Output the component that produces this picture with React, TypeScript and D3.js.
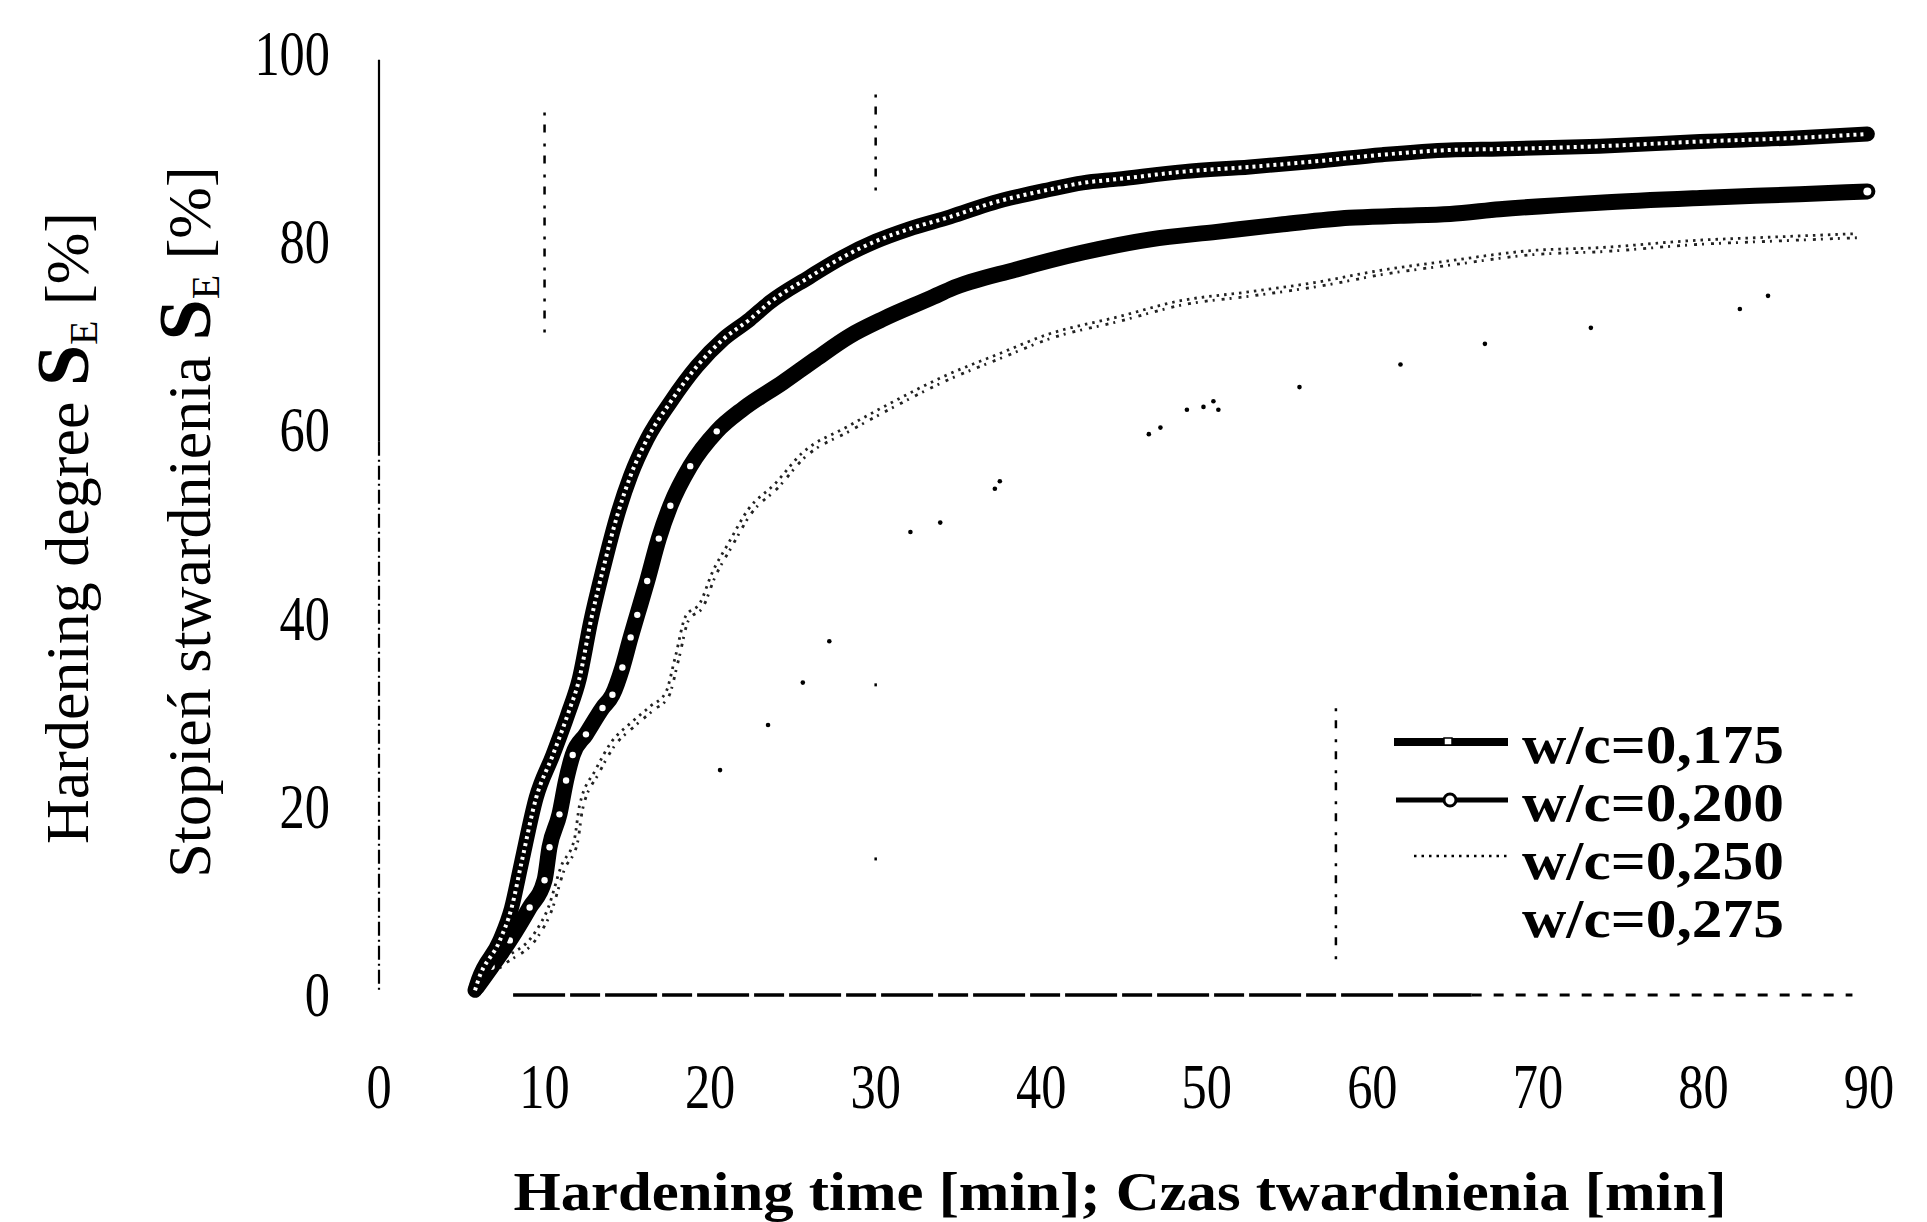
import React from 'react';
import * as d3 from 'd3';

const W = 1927;
const H = 1222;

const xTicks = [0, 10, 20, 30, 40, 50, 60, 70, 80, 90];
const yTicks = [0, 20, 40, 60, 80, 100];

const seriesLabels = ['w/c=0,175', 'w/c=0,200', 'w/c=0,250', 'w/c=0,275'];

// [time min, hardening degree %]
const s175: [number, number][] = [
  [5.8, 0.5], [6.0, 1.6], [7.3, 5.8], [8.0, 9.2], [8.6, 14.0], [9.5, 21.0], [10.5, 25.5],
  [11.4, 29.8], [12.1, 33.6], [12.8, 39.8], [13.5, 45.0], [14.4, 51.0], [15.2, 55.2],
  [16.2, 59.1], [17.6, 63.0], [19.2, 66.8], [20.8, 69.7], [22.4, 71.8], [23.6, 73.6],
  [26.0, 76.3], [28.0, 78.4], [30.0, 80.1], [32.0, 81.4], [34.5, 82.7], [37.1, 84.2],
  [40.5, 85.6], [42.5, 86.3], [44.6, 86.7], [48.6, 87.5], [52.6, 88.0], [56.6, 88.6],
  [60.6, 89.3], [64.7, 89.8], [67.7, 89.9], [73.7, 90.2], [79.8, 90.7], [85.8, 91.1], [89.9, 91.5],
];

const s200: [number, number][] = [
  [5.9, 0.8], [6.8, 3.0], [7.9, 5.8], [9.1, 9.3], [10.0, 12.2], [10.3, 15.7], [10.9, 19.2],
  [11.3, 22.8], [11.7, 25.5], [12.5, 27.7], [13.5, 30.5], [14.1, 31.9], [14.7, 34.8],
  [15.2, 38.0], [15.6, 40.4], [16.2, 44.0], [16.9, 48.5], [17.6, 52.0], [18.8, 56.2],
  [20.4, 59.9], [22.0, 62.3], [24.4, 65.1], [26.4, 67.6], [28.4, 70.0], [30.4, 71.8],
  [33.5, 74.2], [34.5, 75.0], [38.5, 77.1], [42.5, 78.9], [46.6, 80.3], [50.6, 81.1],
  [54.6, 81.9], [58.6, 82.6], [61.7, 82.8], [64.7, 83.0], [67.7, 83.5], [73.7, 84.2],
  [79.8, 84.7], [85.8, 85.1], [89.9, 85.4],
];

const s250: [number, number][] = [
  [5.6, 0.8], [7.5, 3.5], [9.5, 6.4], [10.3, 9.0], [11.1, 13.5], [11.9, 16.4], [12.2, 19.9],
  [13.2, 23.8], [14.1, 26.6], [15.3, 28.7], [16.5, 30.5], [17.4, 31.9], [18.0, 35.8],
  [18.6, 40.0], [19.5, 41.5], [20.2, 44.6], [21.2, 47.8], [22.4, 51.4], [24.0, 54.1],
  [25.6, 57.3], [28.4, 60.2], [30.9, 62.6], [34.3, 65.6], [37.5, 67.9], [40.5, 70.0],
  [44.6, 71.8], [48.6, 73.6], [52.6, 74.5], [56.6, 75.5], [60.6, 76.8], [64.7, 77.8],
  [69.7, 78.9], [73.7, 79.2], [79.8, 80.0], [83.8, 80.3], [89.4, 80.7],
];

const s275: [number, number][] = [
  [20.6, 23.9], [23.5, 28.7], [25.6, 33.2], [27.2, 37.6], [32.1, 49.2], [33.9, 50.2],
  [37.2, 53.8], [37.5, 54.6], [46.5, 59.6], [47.2, 60.3], [48.8, 62.2], [49.8, 62.5],
  [50.4, 63.1], [50.7, 62.2], [55.6, 64.6], [61.7, 67.0], [66.8, 69.2], [73.2, 70.9],
  [82.2, 72.9], [83.9, 74.3],
];

// faint dotted guide remnants of the scan: [time, from %, to %]
const guides: [number, number, number][] = [
  [10, 70.4, 93.8],
  [30, 85.5, 96.0],
  [30, 80.5, 82.0],
  [30, 32.8, 33.8],
  [30, 14.3, 15.3],
  [57.8, 3.8, 31.6],
];

// baseline (zero line) segments: [from min, to min]
const baseDense: [number, number] = [8.1, 66];
const baseSparse: [number, number] = [66, 89];

const xScale = d3.scaleLinear().domain([0, 90]).range([379, 1869]);
const yScale = d3.scaleLinear().domain([0, 100]).range([995, 54]);

const line = d3
  .line<[number, number]>()
  .x((d) => xScale(d[0]))
  .y((d) => yScale(d[1]))
  .curve(d3.curveMonotoneX);

const FONT = '"Liberation Serif", "Times New Roman", serif';

export default function App() {
  const p175 = line(s175) || '';
  const p200 = line(s200) || '';
  const p250 = line(s250) || '';
  const last200 = s200[s200.length - 1];

  return (
    <svg
      width={W}
      height={H}
      viewBox={`0 0 ${W} ${H}`}
      style={{ position: 'absolute', left: 0, top: 0, background: '#fff' }}
      fontFamily={FONT}
    >
      <rect x={0} y={0} width={W} height={H} fill="#fff" />

      {/* y axis: solid upper part, broken lower part */}
      <line x1={xScale(0)} x2={xScale(0)} y1={yScale(99.4)} y2={yScale(58.8)} stroke="#000" strokeWidth={2.2} />
      <line
        x1={xScale(0)}
        x2={xScale(0)}
        y1={yScale(58.8)}
        y2={yScale(0.2)}
        stroke="#000"
        strokeWidth={2.2}
        strokeDasharray="14 4 2 4"
      />

      {/* guide remnants */}
      {guides.map((g, i) => (
        <line
          key={i}
          x1={xScale(g[0])}
          x2={xScale(g[0])}
          y1={yScale(g[1])}
          y2={yScale(g[2])}
          stroke="#000"
          strokeWidth={2.5}
          strokeDasharray="3 11 8 9"
        />
      ))}

      {/* zero line */}
      <line
        x1={xScale(baseDense[0])}
        x2={xScale(baseDense[1])}
        y1={yScale(0)}
        y2={yScale(0)}
        stroke="#000"
        strokeWidth={3.5}
        strokeDasharray="52 5 30 5"
      />
      <line
        x1={xScale(baseSparse[0])}
        x2={xScale(baseSparse[1])}
        y1={yScale(0)}
        y2={yScale(0)}
        stroke="#000"
        strokeWidth={3}
        strokeDasharray="10 12"
      />

      {/* w/c = 0,275 sparse points */}
      {s275.map((d, i) => (
        <circle key={i} cx={xScale(d[0])} cy={yScale(d[1])} r={2.3} fill="#000" />
      ))}

      {/* w/c = 0,250 dotted (fuzzy band of small markers) */}
      <path d={p250} fill="none" stroke="#222" strokeWidth={2.8} strokeDasharray="2.5 5" transform="translate(-1.5,-2)" />
      <path d={p250} fill="none" stroke="#222" strokeWidth={2.8} strokeDasharray="2 7 3 5" transform="translate(1.5,2)" />

      {/* w/c = 0,200 */}
      <path d={p200} fill="none" stroke="#000" strokeWidth={16} strokeLinejoin="round" strokeLinecap="round" />
      {s200
        .filter((d) => d[0] < 22)
        .map((d, i) => (
          <circle key={i} cx={xScale(d[0])} cy={yScale(d[1])} r={3.2} fill="#fff" />
        ))}
      <circle cx={xScale(last200[0])} cy={yScale(last200[1])} r={4} fill="#fff" />

      {/* w/c = 0,175 */}
      <path d={p175} fill="none" stroke="#000" strokeWidth={15} strokeLinejoin="round" strokeLinecap="round" />
      <path d={p175} fill="none" stroke="#fff" strokeWidth={4} strokeDasharray="3 4" />

      {/* y tick labels */}
      {yTicks.map((v) => (
        <text
          key={v}
          transform={`translate(330, ${yScale(v) + 21}) scale(0.8, 1)`}
          textAnchor="end"
          fontSize={63}
          fill="#000"
        >
          {v}
        </text>
      ))}

      {/* x tick labels */}
      {xTicks.map((t) => (
        <text
          key={t}
          transform={`translate(${xScale(t)}, 1108) scale(0.8, 1)`}
          textAnchor="middle"
          fontSize={63}
          fill="#000"
        >
          {t}
        </text>
      ))}

      {/* x title */}
      <text
        x={1120}
        y={1210}
        textAnchor="middle"
        fontSize={55}
        fontWeight="bold"
        textLength={1213}
        lengthAdjust="spacingAndGlyphs"
      >
        Hardening time [min]; Czas twardnienia [min]
      </text>

      {/* y titles */}
      <text transform="translate(88, 528) rotate(-90)" textAnchor="middle" fontSize={62}>
        <tspan>Hardening degree </tspan>
        <tspan fontWeight="bold" fontSize={74}>S</tspan>
        <tspan fontSize={40} dy={9}>E</tspan>
        <tspan dy={-9}> [%]</tspan>
      </text>
      <text transform="translate(210, 522) rotate(-90)" textAnchor="middle" fontSize={62}>
        <tspan>Stopień stwardnienia </tspan>
        <tspan fontWeight="bold" fontSize={74}>S</tspan>
        <tspan fontSize={40} dy={9}>E</tspan>
        <tspan dy={-9}> [%]</tspan>
      </text>

      {/* legend */}
      <g>
        <line x1={1394} x2={1508} y1={742} y2={742} stroke="#000" strokeWidth={8} />
        <rect x={1444} y={738} width={8} height={7} fill="#fff" stroke="#000" strokeWidth={1.5} />
        <line x1={1396} x2={1508} y1={800} y2={800} stroke="#000" strokeWidth={5} />
        <circle cx={1450} cy={800} r={6} fill="#fff" stroke="#000" strokeWidth={3} />
        <line x1={1414} x2={1508} y1={856} y2={856} stroke="#000" strokeWidth={2.5} strokeDasharray="2.5 5" />
        {seriesLabels.map((s, i) => (
          <text
            key={s}
            x={1522}
            y={763 + i * 58}
            fontSize={54}
            fontWeight="bold"
            textLength={262}
            lengthAdjust="spacingAndGlyphs"
          >
            {s}
          </text>
        ))}
      </g>
    </svg>
  );
}
